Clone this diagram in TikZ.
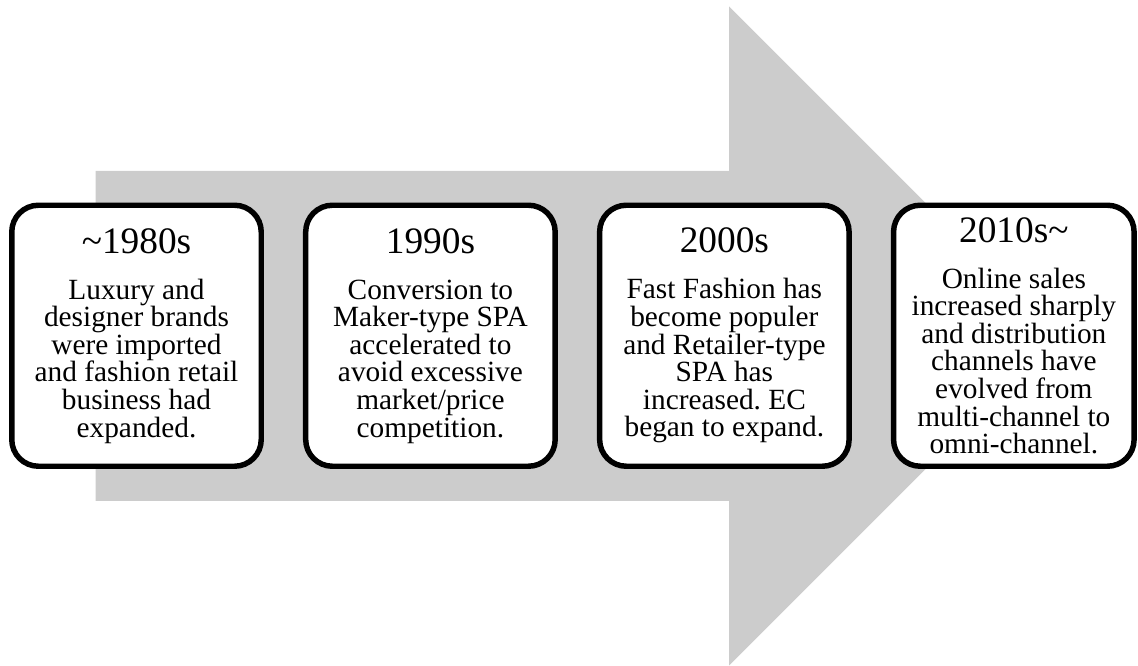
\documentclass[tikz,border=0pt]{standalone}
\usepackage{fontspec}
\setmainfont{Liberation Serif}
\usetikzlibrary{positioning}

\definecolor{arrowgray}{HTML}{CCCCCC}
\newcommand{\yearfont}{\fontsize{28pt}{28pt}\selectfont}
\newcommand{\bodyfont}{\fontsize{22pt}{20.7pt}\selectfont\frenchspacing}

\begin{document}
\begin{tikzpicture}[x=0.75pt, y=0.75pt, node distance=29.25pt,
    period/.style={rectangle, rounded corners=20pt, draw, line width=4.1pt, fill=white,
        minimum width=187.1pt, minimum height=195.75pt, inner sep=0pt,
        align=center, font=\bodyfont}]
    \useasboundingbox (0,0) rectangle (1138,666);

    % Big grey arrow in the background
    \fill [arrowgray] (95.5,165) -- (729,165) -- (729,0.5) -- (1058.5,330)
        -- (729,659.5) -- (729,495) -- (95.5,495) -- cycle;

    % Define nodes
    \node [period] (p1980) at (136.5,330.25) {{\yearfont\textasciitilde1980s}\\[13.8pt]
        Luxury and\\designer brands\\were imported\\and fashion retail\\business had\\expanded.};
    \node [period, right=of p1980] (p1990) {{\yearfont 1990s}\\[13.8pt]
        Conversion to\\Maker-type SPA\\accelerated to\\avoid excessive\\market/price\\competition.};
    \node [period, right=of p1990] (p2000) {{\yearfont 2000s}\\[13.8pt]
        Fast Fashion has\\become populer\\and Retailer-type\\SPA has\\increased. EC\\began to expand.};
    \node [period, right=of p2000, minimum width=180.4pt] (p2010) {{\yearfont 2010s\textasciitilde}\\[13.8pt]
        Online sales\\increased sharply\\and distribution\\channels have\\evolved from\\multi-channel to\\omni-channel.};
\end{tikzpicture}
\end{document}
